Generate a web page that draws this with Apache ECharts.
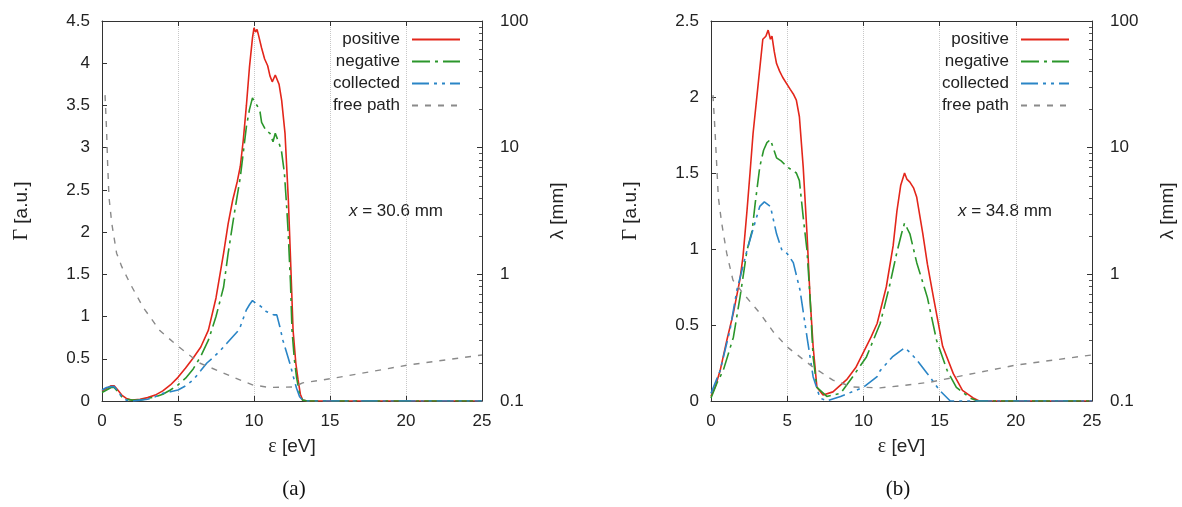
<!DOCTYPE html>
<html><head><meta charset="utf-8">
<script src="https://cdn.jsdelivr.net/npm/echarts@6/dist/echarts.min.js"></script>
<style>html,body{margin:0;padding:0;background:#fff}#c{width:1182px;height:507px}</style>
</head><body><div id="c"></div>
<script>
// ---------- data (ε [eV], value) ----------
const seriesNames = ['positive', 'negative', 'collected', 'free path'];
const panelLabels = ['(a)', '(b)'];
const panelNotes = ['30.6 mm', '34.8 mm'];
const leftMax = [4.5, 2.5];

const aPositive = [[0,0.12],[0.3,0.15],[0.6,0.18],[0.8,0.18],[1.0,0.14],[1.3,0.07],[1.6,0.03],[2.0,0.01],[2.5,0.02],[3.0,0.04],[3.5,0.07],[4.0,0.12],[4.5,0.19],[5.0,0.28],[5.5,0.39],[6.0,0.51],[6.5,0.64],[7.0,0.84],[7.5,1.22],[8.0,1.75],[8.3,2.1],[8.6,2.38],[8.9,2.6],[9.1,2.78],[9.3,3.1],[9.5,3.5],[9.7,3.95],[9.9,4.3],[10.0,4.42],[10.1,4.37],[10.2,4.4],[10.3,4.33],[10.5,4.18],[10.7,4.05],[10.9,3.97],[11.05,3.85],[11.2,3.78],[11.4,3.86],[11.5,3.88],[11.65,3.75],[11.82,3.56],[12.04,3.17],[12.26,2.38],[12.4,1.7],[12.57,0.84],[12.75,0.45],[12.9,0.25],[13.05,0.08],[13.2,0.01],[13.5,0],[25,0]];
const aNegative = [[0,0.1],[0.3,0.13],[0.6,0.16],[0.8,0.16],[1.0,0.12],[1.3,0.05],[1.6,0.02],[2.0,0.01],[2.5,0.01],[3.0,0.03],[3.5,0.05],[4.0,0.08],[4.5,0.13],[5.0,0.19],[5.5,0.27],[6.0,0.38],[6.5,0.53],[7.0,0.72],[7.5,1.0],[8.0,1.35],[8.3,1.75],[8.6,2.1],[8.85,2.38],[9.1,2.65],[9.3,2.95],[9.5,3.25],[9.7,3.45],[9.9,3.59],[10.0,3.55],[10.2,3.5],[10.4,3.42],[10.5,3.3],[10.6,3.29],[10.8,3.2],[11.05,3.17],[11.25,3.07],[11.4,3.17],[11.5,3.15],[11.65,3.05],[11.8,2.97],[12.0,2.7],[12.15,2.3],[12.25,1.99],[12.4,1.4],[12.5,0.84],[12.65,0.5],[12.8,0.28],[13.0,0.08],[13.2,0.01],[13.5,0],[25,0]];
const aCollected = [[0,0.13],[0.3,0.16],[0.6,0.17],[0.8,0.17],[1.0,0.13],[1.3,0.05],[1.6,0.01],[2.0,0.0],[2.5,0.01],[3.0,0.02],[3.5,0.05],[4.0,0.09],[4.5,0.11],[5.0,0.13],[5.5,0.18],[6.0,0.25],[6.5,0.36],[6.9,0.45],[7.4,0.53],[7.8,0.6],[8.2,0.68],[8.6,0.76],[8.9,0.82],[9.1,0.88],[9.3,0.98],[9.5,1.08],[9.7,1.14],[9.9,1.19],[10.1,1.16],[10.3,1.14],[10.6,1.1],[10.8,1.06],[11.05,1.04],[11.3,1.02],[11.5,1.02],[11.7,0.88],[11.9,0.72],[12.1,0.6],[12.4,0.42],[12.6,0.28],[12.8,0.15],[13.0,0.05],[13.2,0.01],[13.5,0],[25,0]];
const aFreePath = [[0.2,26],[0.3,13.8],[0.37,7.5],[0.46,4.07],[0.64,2.54],[0.96,1.47],[1.3,1.15],[1.84,0.85],[2.7,0.55],[3.8,0.36],[4.9,0.277],[6.4,0.2],[8.6,0.155],[9.9,0.134],[11.0,0.128],[12.6,0.129],[13.2,0.139],[15.2,0.151],[20.1,0.192],[25,0.231]];

const bPositive = [[0,0.03],[0.3,0.1],[0.6,0.2],[1.04,0.4],[1.47,0.58],[1.9,0.8],[2.1,0.95],[2.36,1.25],[2.56,1.5],[2.76,1.76],[3.1,2.09],[3.4,2.38],[3.6,2.4],[3.75,2.44],[3.9,2.38],[4.0,2.4],[4.15,2.3],[4.3,2.22],[4.5,2.17],[4.7,2.13],[4.95,2.09],[5.2,2.05],[5.4,2.02],[5.6,1.98],[5.8,1.87],[6.05,1.54],[6.3,1.1],[6.5,0.68],[6.7,0.36],[6.95,0.09],[7.35,0.04],[8.0,0.06],[8.9,0.14],[9.5,0.22],[10.0,0.32],[10.5,0.42],[10.9,0.51],[11.5,0.75],[11.95,1.02],[12.2,1.25],[12.45,1.42],[12.7,1.5],[12.85,1.46],[13.05,1.44],[13.3,1.4],[13.5,1.34],[13.7,1.22],[13.9,1.1],[14.2,0.9],[14.6,0.68],[15.2,0.36],[15.9,0.18],[16.5,0.07],[17.2,0.02],[17.6,0],[25,0]];
const bNegative = [[0,0.02],[0.4,0.12],[0.8,0.2],[1.47,0.42],[1.9,0.68],[2.36,0.99],[2.7,1.12],[2.9,1.3],[3.2,1.54],[3.45,1.65],[3.67,1.7],[3.9,1.72],[4.1,1.66],[4.3,1.6],[4.6,1.58],[5.0,1.54],[5.3,1.52],[5.6,1.5],[5.8,1.45],[6.05,1.21],[6.3,0.99],[6.5,0.68],[6.7,0.29],[6.95,0.09],[7.6,0.03],[8.5,0.05],[9.3,0.16],[10.2,0.29],[11.1,0.51],[11.7,0.75],[12.2,0.98],[12.5,1.1],[12.7,1.17],[12.9,1.13],[13.05,1.1],[13.5,0.91],[14.2,0.68],[14.8,0.4],[15.5,0.2],[16.1,0.09],[17.0,0.02],[17.5,0],[25,0]];
const bCollected = [[0,0.05],[0.6,0.2],[1.25,0.47],[1.7,0.73],[2.36,0.99],[2.76,1.13],[3.2,1.28],[3.5,1.31],[3.9,1.28],[4.3,1.1],[4.66,0.99],[5.0,0.97],[5.4,0.91],[5.84,0.73],[6.3,0.42],[6.7,0.16],[7.15,0.02],[7.6,0],[8.5,0.03],[10.0,0.09],[10.9,0.16],[11.1,0.2],[11.9,0.29],[12.7,0.35],[13.05,0.32],[13.5,0.27],[14.2,0.18],[15.0,0.07],[15.7,0],[25,0]];
const bFreePath = [[0.13,26],[0.26,13.8],[0.37,7.5],[0.48,4.07],[0.7,2.54],[1.03,1.47],[1.44,0.9],[2.1,0.71],[3.2,0.495],[4.1,0.35],[5.0,0.267],[6.7,0.185],[8.0,0.146],[9.3,0.129],[11.1,0.127],[12.5,0.132],[14.4,0.141],[16.1,0.155],[20,0.192],[25,0.231]];

const panelData = [[aPositive, aNegative, aCollected, aFreePath], [bPositive, bNegative, bCollected, bFreePath]];

// ---------- styling ----------
const SANS = "'Liberation Sans', Arial, sans-serif";
const SERIF = "'Liberation Serif', 'Times New Roman', serif";
const colors = ['#e3261b', '#2b962b', '#2a85c6', '#8a8a8a'];
const dashes = ['solid', [18,5,3,5], [17,5,3,5,3,5], [6,7]];
const widths = [1.6, 1.6, 1.6, 1.4];
const grids = [{left:102, top:21, width:380, height:380}, {left:711, top:21, width:381, height:380}];
const axisCol = '#333';
const TXT = '#222';

const xAxis = [], yAxis = [], series = [], legend = [], graphic = [];
grids.forEach((g, i) => {
  xAxis.push({
    type:'value', gridIndex:i, min:0, max:25, interval:5, position:'bottom',
    name:'{g|ε} [eV]', nameLocation:'middle', nameGap:36,
    nameTextStyle:{fontFamily:SANS, fontSize:19, color:TXT, rich:{g:{fontFamily:SERIF, fontSize:20, color:TXT}}},
    axisLine:{show:true, lineStyle:{color:axisCol, width:1}},
    axisTick:{show:true, inside:true, length:5, lineStyle:{color:axisCol}},
    axisLabel:{fontFamily:SANS, fontSize:17, color:TXT, margin:12},
    splitLine:{show:true, lineStyle:{color:'#c8c8c8', type:'dotted', width:1}}
  });
  xAxis.push({
    type:'value', gridIndex:i, min:0, max:25, interval:5, position:'top',
    axisLine:{show:true, onZero:false, lineStyle:{color:axisCol, width:1}},
    axisTick:{show:true, inside:true, length:5, lineStyle:{color:axisCol}},
    axisLabel:{show:false}, splitLine:{show:false}
  });
  yAxis.push({
    type:'value', gridIndex:i, min:0, max:leftMax[i], interval:0.5, position:'left',
    name:'{g|Γ} [a.u.]', nameLocation:'middle', nameGap:70, nameRotate:90,
    nameTextStyle:{fontFamily:SANS, fontSize:19, color:TXT, rich:{g:{fontFamily:SERIF, fontSize:20, color:TXT}}},
    axisLine:{show:true, onZero:false, lineStyle:{color:axisCol, width:1}},
    axisTick:{show:true, inside:true, length:5, lineStyle:{color:axisCol}},
    axisLabel:{fontFamily:SANS, fontSize:17, color:TXT, margin:12},
    splitLine:{show:false}
  });
  yAxis.push({
    type:'log', logBase:10, gridIndex:i, min:0.1, max:100, position:'right',
    name:'λ [mm]', nameLocation:'middle', nameGap:66, nameRotate:90,
    nameTextStyle:{fontFamily:SANS, fontSize:19, color:TXT},
    axisLine:{show:true, onZero:false, lineStyle:{color:axisCol, width:1}},
    axisTick:{show:true, inside:true, length:5, lineStyle:{color:axisCol}},
    minorTick:{show:true, splitNumber:9, length:3, lineStyle:{color:'#555'}},
    axisLabel:{fontFamily:SANS, fontSize:17, color:TXT, margin:18},
    splitLine:{show:false}
  });
  panelData[i].forEach((d, k) => {
    series.push({
      name:seriesNames[k], type:'line', xAxisIndex:2*i, yAxisIndex: k === 3 ? 2*i+1 : 2*i,
      data:d, symbol:'none', showSymbol:false, color:colors[k], z: 2 + k,
      lineStyle:{color:colors[k], width:widths[k], type:dashes[k]}
    });
  });
  legend.push({
    data:seriesNames, orient:'vertical', align:'right',
    right: i === 0 ? 716 : 107, top:26, itemWidth:48, itemHeight:14, itemGap:5,
    selectedMode:false,
    itemStyle:{opacity:0},
    textStyle:{fontFamily:SANS, fontSize:17, color:TXT, lineHeight:16, padding:[0,7,0,0]}
  });
  graphic.push({
    type:'text', x: i === 0 ? 396 : 1005, y: 211,
    style:{text:'{i|x} = ' + panelNotes[i], font:'17px ' + SANS, fill:TXT, align:'center', verticalAlign:'middle',
      rich:{i:{fontStyle:'italic', fontFamily:SANS, fontSize:17, fill:TXT}}}
  });
  graphic.push({
    type:'text', x: i === 0 ? 294 : 898, y: 489,
    style:{text:panelLabels[i], font:'21px ' + SERIF, fill:'#111', align:'center', verticalAlign:'middle'}
  });
});

const chart = echarts.init(document.getElementById('c'), null, {renderer:'canvas'});
chart.setOption({
  animation:false, backgroundColor:'#fff',
  grid:grids, xAxis, yAxis, series, legend, graphic
});
</script></body></html>
